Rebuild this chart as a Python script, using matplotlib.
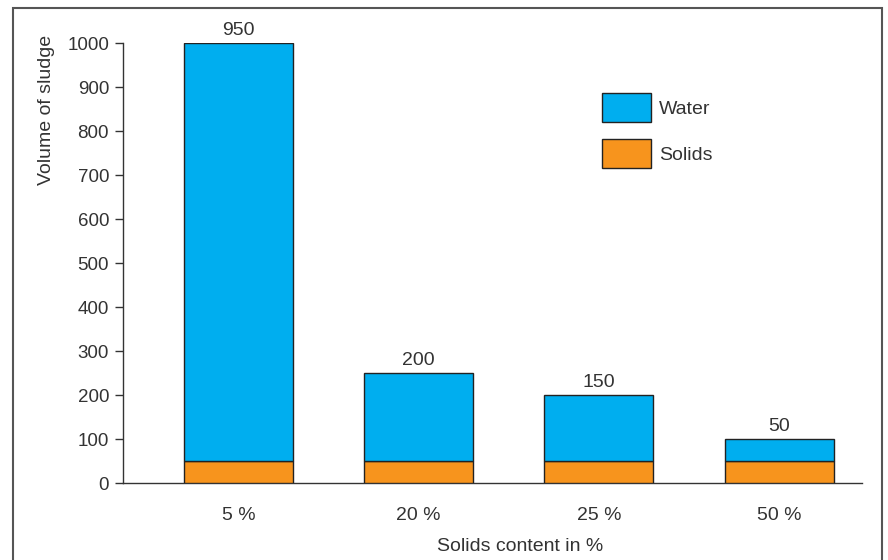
import matplotlib.pyplot as plt
from matplotlib.patches import Rectangle

plt.rcParams['font.family'] = ['Liberation Sans', 'DejaVu Sans']
plt.rcParams['text.color'] = '#333333'
plt.rcParams['axes.labelcolor'] = '#333333'

categories = ['5 %', '20 %', '25 %', '50 %']
solids = [50, 50, 50, 50]
water = [950, 200, 150, 50]

water_color = '#00AEEF'
solids_color = '#F7941D'
edge = '#222222'
fs = 13.5

fig = plt.figure(figsize=(8.88, 5.6), dpi=100)
ax = fig.add_axes([0.1385, 0.1375, 0.8322, 0.7857])

x = range(len(categories))
b_solids = ax.bar(x, solids, width=0.605, color=solids_color, edgecolor=edge,
                  linewidth=1, label='Solids', zorder=3)
b_water = ax.bar(x, water, width=0.605, bottom=solids, color=water_color,
                 edgecolor=edge, linewidth=1, label='Water', zorder=3)
ax.bar_label(b_water, labels=[str(v) for v in water], padding=3, fontsize=14,
             color='#333333', clip_on=False)

ax.set_xlim(-0.64, 3.46)
ax.set_ylim(0, 1000)
ax.set_yticks(range(0, 1001, 100))
ax.set_xticks(list(x))
ax.set_xticklabels(categories)
ax.tick_params(axis='x', length=0, pad=17, labelsize=14, colors='#333333')
ax.tick_params(axis='y', length=6, width=1, pad=4, labelsize=fs,
               colors='#333333')

for side in ('top', 'right'):
    ax.spines[side].set_visible(False)
for side in ('left', 'bottom'):
    ax.spines[side].set_color('#333333')
    ax.spines[side].set_linewidth(1)

ax.set_xlabel('Solids content in %', fontsize=14)
ax.xaxis.set_label_coords(0.537, -0.145)
ax.set_ylabel('Volume of sludge', fontsize=14)
ax.yaxis.set_label_coords(-0.1035, 0.847)
ax.yaxis.label.set_verticalalignment('center')
ax.xaxis.label.set_verticalalignment('center')

ax.legend(handles=[b_water, b_solids], labels=['Water', 'Solids'],
          loc='upper left', bbox_to_anchor=(602 / 888, 1 - 93 / 560),
          bbox_transform=fig.transFigure, frameon=False, fontsize=14,
          handlelength=2.5, handleheight=1.95, labelspacing=0.85,
          handletextpad=0.45, borderpad=0, borderaxespad=0)

# outer frame, open at the bottom
fig.patches.append(Rectangle((13 / 888, -0.05), 869 / 888, 1.05 - 8 / 560,
                             transform=fig.transFigure, fill=False,
                             edgecolor='#555555', linewidth=1.5))

fig.savefig('out.png', dpi=100)
